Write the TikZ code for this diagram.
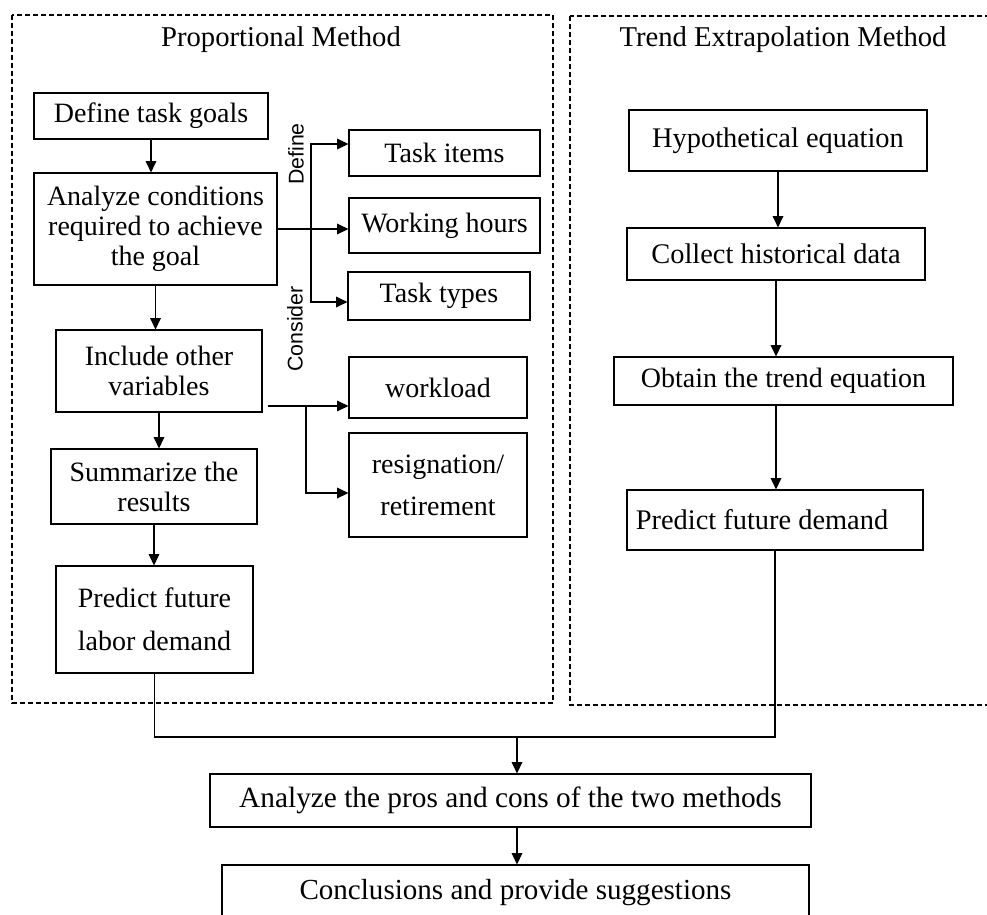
\documentclass[tikz,border=0pt]{standalone}
\usepackage{fontspec}
\setmainfont{Liberation Serif}
\newfontfamily\sidefont{Liberation Sans}
\usetikzlibrary{arrows.meta}

\tikzset{every picture/.style={line width=0.75pt}}
\tikzset{
	stepbox/.style={draw, line width=0.9pt, inner sep=0pt, align=center, font=\fontsize{21}{22.5}\selectfont},
	framebox/.style={draw, line width=0.9pt, dash pattern=on 3.75pt off 2.25pt},
	flow/.style={line width=0.9pt, -{Triangle[length=8.5pt,width=8pt]}},
	link/.style={line width=0.9pt},
	sidelabel/.style={rotate=90, font=\sidefont\fontsize{16}{18}\selectfont},
	heading/.style={font=\fontsize{21.5}{24}\selectfont}}

\begin{document}
\begin{tikzpicture}[x=0.75pt,y=0.75pt,yscale=-1,xscale=1]
	\useasboundingbox (0,0) rectangle (987,914);

	%Shape: Rectangle (left frame)
	\draw [framebox] (12,15) rectangle (553,703);
	%Shape: Rectangle (right frame, runs off the page)
	\draw [framebox] (570,16) rectangle (995,705);

	% Text Node
	\node [heading] (hprop) at (281,40) {Proportional Method};
	% Text Node
	\node [heading] (htrend) at (783,40) {Trend Extrapolation Method};

	%Shape: Rectangle
	\node [stepbox, minimum width=175.5pt, minimum height=34.5pt] (dtg) at (151,116) {Define task goals};
	\node [stepbox, minimum width=182.25pt, minimum height=84pt] (acg) at (155.5,229) {Analyze conditions\\required to achieve\\the goal};
	\node [stepbox, minimum width=154.5pt, minimum height=61.5pt] (iov) at (159,371) {Include other\\variables};
	\node [stepbox, minimum width=154.5pt, minimum height=56.25pt] (str) at (154,486.5) {Summarize the\\results};
	\node [stepbox, minimum width=147.75pt, minimum height=80.25pt] (pfl) at (154.5,619.5) {Predict future\\[10pt]labor demand};

	\node [stepbox, minimum width=143.25pt, minimum height=34.5pt] (tit) at (444.5,153) {Task items};
	\node [stepbox, minimum width=143.25pt, minimum height=41.25pt] (wkh) at (444.5,225.5) {Working hours};
	\node [stepbox, minimum width=136.5pt, minimum height=36pt] (tty) at (439,296) {Task types};
	\node [stepbox, minimum width=133.5pt, minimum height=45.75pt] (wld) at (438,387.5) {workload};
	\node [stepbox, minimum width=133.5pt, minimum height=78pt] (rsg) at (438,485) {resignation/\\[9pt]retirement};

	\node [stepbox, font=\fontsize{21.3}{24}\selectfont, minimum width=223.5pt, minimum height=45.75pt] (hye) at (778,140.5) {Hypothetical equation};
	\node [stepbox, font=\fontsize{21.3}{24}\selectfont, minimum width=223.5pt, minimum height=39pt] (chd) at (776,254) {Collect historical data};
	\node [stepbox, font=\fontsize{21}{24}\selectfont, minimum width=254.25pt, minimum height=36pt] (ote) at (783.5,381) {Obtain the trend equation};
	\node [stepbox, font=\fontsize{21.3}{24}\selectfont, minimum width=222pt, minimum height=45pt] (pfd) at (775,520) {Predict future demand\hspace*{19.5pt}};

	\node [stepbox, font=\fontsize{22}{24}\selectfont, minimum width=450.75pt, minimum height=39.75pt] (apc) at (510.5,800.5) {Analyze the pros and cons of the two methods};
	\node [stepbox, font=\fontsize{21.8}{24}\selectfont, minimum width=440.25pt, minimum height=41.25pt] (cps) at (515.5,892.5) {Conclusions and provide suggestions};

	% Text Node
	\node [sidelabel] (ldef) at (296,154) {Define};
	% Text Node
	\node [sidelabel] (lcon) at (295,329) {Consider};

	%Straight Lines
	\draw [flow] (dtg.south) -- (dtg.south |- acg.north);
	\draw [flow] (acg.south) -- (acg.south |- iov.north);
	\draw [flow] (iov.south) -- (iov.south |- str.north);
	\draw [flow] (str.south) -- (str.south |- pfl.north);

	%Straight Lines (define / consider branches)
	\coordinate (fork) at (311,229);
	\draw [link] (acg.east) -- (fork);
	\draw [flow] (fork) -- (wkh.west |- fork);
	\draw [flow] (fork) |- ([yshift=-6.75pt]tit.west);
	\draw [flow] (fork) |- ([yshift=4.5pt]tty.west);

	\coordinate (forkb) at (306,406);
	\draw [link] ([xshift=3.75pt]iov.east |- forkb) -- (forkb);
	\draw [flow] (forkb) -- (wld.west |- forkb);
	\draw [flow] (forkb) |- ([yshift=6pt]rsg.west);

	%Straight Lines
	\draw [flow] (hye.south) -- (hye.south |- chd.north);
	\draw [flow] (chd.south) -- (chd.south |- ote.north);
	\draw [flow] (ote.south -| chd.south) -- (chd.south |- pfd.north);

	%Straight Lines (merge)
	\coordinate (merge) at (517,737);
	\draw [link] (pfl.south) |- (merge);
	\draw [link] (pfd.south) |- (merge);
	\draw [flow] (merge) -- (merge |- apc.north);
	\draw [flow] (apc.south -| merge) -- (merge |- cps.north);

\end{tikzpicture}
\end{document}
